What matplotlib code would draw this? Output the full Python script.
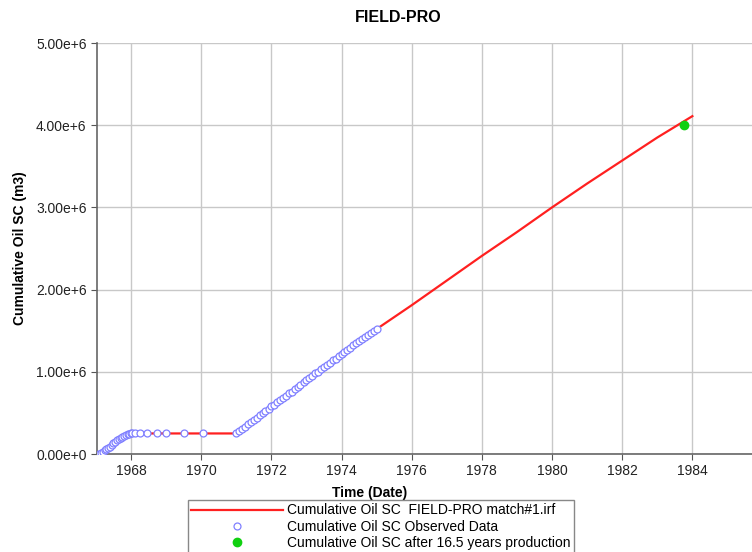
import matplotlib
matplotlib.use("Agg")
import matplotlib.pyplot as plt

plt.rcParams['font.family'] = ['Liberation Sans', 'DejaVu Sans']

# simulated cumulative oil (match#1), years / m3
sim_years = [1967.03, 1967.2, 1967.4, 1967.6, 1967.8, 1968.0, 1968.3, 1969.0, 1970.0, 1970.95,
             1971.2, 1971.5, 1972.0, 1972.5, 1973.0, 1973.5, 1974.0, 1974.5, 1975.0,
             1976.0, 1977.0, 1978.0, 1979.0, 1980.0, 1981.0, 1982.0, 1983.0, 1984.0]
sim_oil = [0.0, 0.03e6, 0.09e6, 0.16e6, 0.22e6, 0.25e6, 0.25e6, 0.25e6, 0.25e6, 0.25e6,
           0.33e6, 0.41e6, 0.58e6, 0.74e6, 0.90e6, 1.06e6, 1.22e6, 1.37e6, 1.52e6,
           1.81e6, 2.11e6, 2.41e6, 2.70e6, 3.00e6, 3.29e6, 3.57e6, 3.85e6, 4.11e6]

# observed data
obs_years = [1967.10, 1967.15, 1967.20, 1967.25, 1967.30, 1967.35, 1967.40, 1967.45, 1967.50,
             1967.55, 1967.60, 1967.65, 1967.70, 1967.75, 1967.80, 1967.85, 1967.90, 1967.95,
             1968.00, 1968.03, 1968.10, 1968.25, 1968.45, 1968.73, 1969.00, 1969.50, 1970.05,
             1971.00, 1971.08, 1971.17, 1971.25, 1971.33, 1971.42, 1971.50, 1971.58, 1971.67,
             1971.75, 1971.83, 1971.92, 1972.00, 1972.08, 1972.17, 1972.25, 1972.33, 1972.42,
             1972.50, 1972.58, 1972.67, 1972.75, 1972.83, 1972.92, 1973.00, 1973.08, 1973.17,
             1973.25, 1973.33, 1973.42, 1973.50, 1973.58, 1973.67, 1973.75, 1973.83, 1973.92,
             1974.00, 1974.08, 1974.17, 1974.25, 1974.33, 1974.42, 1974.50, 1974.58, 1974.67,
             1974.75, 1974.83, 1974.92, 1975.00]
obs_oil = [0.005e6, 0.015e6, 0.03e6, 0.045e6, 0.06e6, 0.075e6, 0.09e6, 0.11e6, 0.13e6,
           0.15e6, 0.165e6, 0.18e6, 0.195e6, 0.21e6, 0.22e6, 0.23e6, 0.24e6, 0.245e6,
           0.25e6, 0.25e6, 0.25e6, 0.25e6, 0.25e6, 0.25e6, 0.25e6, 0.25e6, 0.25e6,
           0.25e6, 0.28e6, 0.30e6, 0.33e6, 0.36e6, 0.39e6, 0.41e6, 0.44e6, 0.47e6,
           0.50e6, 0.52e6, 0.55e6, 0.58e6, 0.60e6, 0.63e6, 0.66e6, 0.68e6, 0.71e6,
           0.74e6, 0.76e6, 0.79e6, 0.82e6, 0.84e6, 0.87e6, 0.90e6, 0.92e6, 0.95e6,
           0.98e6, 1.00e6, 1.03e6, 1.06e6, 1.08e6, 1.11e6, 1.14e6, 1.16e6, 1.19e6,
           1.22e6, 1.24e6, 1.27e6, 1.29e6, 1.32e6, 1.35e6, 1.37e6, 1.40e6, 1.42e6,
           1.45e6, 1.47e6, 1.50e6, 1.52e6]

# point after 16.5 years
pt_year = [1983.75]
pt_oil = [4.0e6]

x_ticks = [1968, 1970, 1972, 1974, 1976, 1978, 1980, 1982, 1984]
y_ticks = [0, 1e6, 2e6, 3e6, 4e6, 5e6]
y_labels = ['0.00e+0', '1.00e+6', '2.00e+6', '3.00e+6', '4.00e+6', '5.00e+6']

fig = plt.figure(figsize=(7.52, 5.52), dpi=100)
ax = fig.add_axes([97 / 752, 1 - 454 / 552, 1 - 97 / 752, (454 - 43) / 552])

ax.plot(sim_years, sim_oil, color='#ff2020', lw=1.6, zorder=3,
        label='Cumulative Oil SC  FIELD-PRO match#1.irf')
ax.plot(obs_years, obs_oil, ls='none', marker='o', ms=5, mfc='white', mec='#8080ff', mew=0.9,
        zorder=4, label='Cumulative Oil SC Observed Data')
ax.plot(pt_year, pt_oil, ls='none', marker='o', ms=6, color='#10d010', zorder=5,
        label='Cumulative Oil SC after 16.5 years production')

ax.set_xlim(1967.03, 1985.7)
ax.set_ylim(0, 5e6)
ax.set_xticks(x_ticks)
ax.set_yticks(y_ticks)
ax.set_yticklabels(y_labels)
ax.tick_params(labelsize=10, length=4, color='#555555', labelcolor='#222222')
ax.grid(True, color='#c8c8c8', lw=1)
ax.set_axisbelow(True)
for s in ['top', 'right']:
    ax.spines[s].set_visible(False)
for s in ['left', 'bottom']:
    ax.spines[s].set_color('#666666')
    ax.spines[s].set_linewidth(1.2)

fig.text(398 / 752, 1 - 17 / 552, 'FIELD-PRO', ha='center', va='center', fontsize=11.5, fontweight='bold')
fig.text(370 / 752, 1 - 493 / 552, 'Time (Date)', ha='center', va='center', fontsize=10, fontweight='bold')
fig.text(20 / 752, 1 - 248 / 552, 'Cumulative Oil SC (m3)', ha='center', va='center', rotation=90,
         fontsize=10, fontweight='bold')

leg = fig.legend(loc='upper left', bbox_to_anchor=(188 / 752, 1 - 500 / 552), fontsize=10,
                 handlelength=6.6, fancybox=False, framealpha=1, borderpad=0.25,
                 labelspacing=0.15, handletextpad=0.3, borderaxespad=0)
leg.get_frame().set_edgecolor('#888888')

fig.savefig('out.png', dpi=100)
